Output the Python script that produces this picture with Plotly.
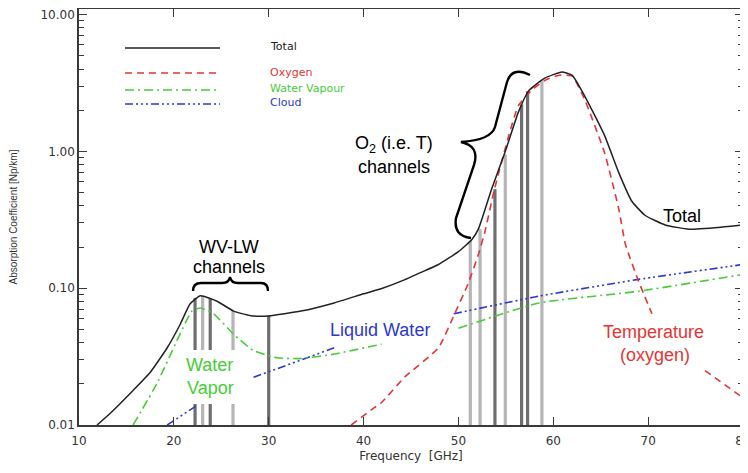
import plotly.graph_objects as go

# ---------------- data ----------------
freq_total = [11.9, 13.3, 15.7, 17.5, 19.3, 20.7, 21.7, 22.8, 24.6, 26.3, 28.1, 30.0,
              33.4, 36.9, 40.0, 42.0, 44.3, 46.0, 47.9, 50.0, 51.4, 52.1, 53.5, 54.9,
              56.3, 57.4, 59.1, 60.9, 62.0, 63.3, 65.4, 66.9, 68.3, 69.7, 71.8, 74.3,
              77.8, 80.0]
total = [0.010, 0.0122, 0.0179, 0.0242, 0.0367, 0.055, 0.0766, 0.088, 0.080, 0.068,
         0.063, 0.0627, 0.068, 0.078, 0.091, 0.100, 0.115, 0.130, 0.149, 0.185, 0.226,
         0.27, 0.53, 0.98, 1.92, 2.77, 3.43, 3.8, 3.6, 2.55, 1.31, 0.70, 0.43, 0.34,
         0.29, 0.27, 0.28, 0.29]

freq_oxygen = [38.7, 40.8, 41.9, 44.3, 47.9, 49.6, 51.0, 52.1, 52.8, 53.8, 55.3, 56.3,
               57.7, 59.1, 60.6, 62.0, 63.3, 65.4, 66.9, 67.6, 69.0, 70.4, None, 76.0, 79.9]
oxygen = [0.010, 0.0129, 0.0146, 0.0223, 0.0367, 0.065, 0.107, 0.176, 0.26, 0.53, 1.3,
          2.15, 2.8, 3.3, 3.6, 3.55, 2.4, 0.98, 0.38, 0.21, 0.112, 0.065, None, 0.025, 0.016]

freq_vapour = [15.7, 18.2, 20.3, 21.9, 22.8, 24.2, 26.3, 28.4, 30.9, 33.4, 36.9, 41.9,
               None, 50.0, 58.5, 69.0, 80.0]
vapour = [0.010, 0.020, 0.041, 0.068, 0.0716, 0.065, 0.046, 0.035, 0.031, 0.0306, 0.033,
          0.039, None, 0.051, 0.078, 0.095, 0.126]

freq_cloud = [19.3, 22.5, None, 28.4, 36.9, None, 49.5, 58.5, 69.0, 80.0]
cloud = [0.010, 0.014, None, 0.0223, 0.0367, None, 0.065, 0.0875, 0.116, 0.149]

wv_channels = [22.235, 23.035, 23.835, 26.235, 30.0]
wv_tops = [0.085, 0.088, 0.084, 0.068, 0.063]
wv_dark = [True, False, True, False, True]

o2_channels = [51.25, 52.28, 53.85, 54.94, 56.66, 57.29, 58.8]
o2_tops = [0.22, 0.27, 0.53, 0.95, 2.2, 2.75, 3.3]
o2_dark = [False, False, True, False, True, True, False]

x_ticks = [10, 20, 30, 40, 50, 60, 70, 80]
y_ticks = [0.01, 0.1, 1, 10]
y_ticktext = ["0.01", "0.10", "1.00", "10.00"]

# ---------------- styling ----------------
OFF = 8                      # page body margin of the browser
W, H = 748 - OFF, 473 - OFF
X0, X1, Y0, Y1 = 79, 743, 425, 9   # plot box in screen pixels (left, right, bottom, top)
DECADE = 136.8                     # pixels per decade on the y axis
RED = "rgb(232,52,52)"
GREEN = "rgb(70,205,55)"
BLUE = "rgb(45,55,215)"
DASH_O2 = "7px,5px"
DASH_WV = "9px,4px,2px,4px"
DASH_CL = "8px,3px,2px,3px,2px,3px,2px,3px"
SMOOTH = 0.45


def px(x):
    return (x - X0) / (X1 - X0)


def py(y):
    return (Y0 - y) / (Y0 - Y1)


def path(segs):
    out = []
    for cmd, pts in segs:
        out.append(cmd + " ".join(f"{px(a):.4f},{py(b):.4f}" for a, b in pts))
    return " ".join(out)


fig = go.Figure()

# channel bars
for chans, tops, darks in [(wv_channels, wv_tops, wv_dark), (o2_channels, o2_tops, o2_dark)]:
    for shade, col in [(True, "#6e6e6e"), (False, "#b5b5b5")]:
        xs, ys = [], []
        for f, t, d in zip(chans, tops, darks):
            if d == shade:
                xs += [f, f, None]
                ys += [0.01, t, None]
        fig.add_trace(go.Scatter(x=xs, y=ys, mode="lines",
                                 line=dict(color=col, width=3.2),
                                 hoverinfo="skip", showlegend=False))

fig.add_trace(go.Scatter(x=freq_cloud, y=cloud, mode="lines", showlegend=False,
                         line=dict(color=BLUE, width=1.6, dash=DASH_CL, shape="spline", smoothing=SMOOTH)))
fig.add_trace(go.Scatter(x=freq_vapour, y=vapour, mode="lines", showlegend=False,
                         line=dict(color=GREEN, width=1.6, dash=DASH_WV, shape="spline", smoothing=SMOOTH)))
fig.add_trace(go.Scatter(x=freq_oxygen, y=oxygen, mode="lines", showlegend=False,
                         line=dict(color=RED, width=1.6, dash=DASH_O2, shape="spline", smoothing=SMOOTH)))
fig.add_trace(go.Scatter(x=freq_total, y=total, mode="lines", showlegend=False,
                         line=dict(color="#222222", width=1.5, shape="spline", smoothing=SMOOTH)))

shapes = []
# white box behind "Water Vapor" label
shapes.append(dict(type="rect", xref="paper", yref="paper", layer="above",
                   x0=px(178), x1=px(250), y0=py(404), y1=py(350),
                   fillcolor="white", line=dict(width=0)))

# legend samples
for yy, col, dash in [(48, "#222222", "solid"), (73, RED, DASH_O2),
                      (90, GREEN, DASH_WV), (104, BLUE, DASH_CL)]:
    shapes.append(dict(type="line", xref="paper", yref="paper", layer="above",
                       x0=px(125), x1=px(220), y0=py(yy), y1=py(yy),
                       line=dict(color=col, width=1.6, dash=dash)))

# braces
brace_o2 = path([("M", [(530, 75)]), ("Q", [(512, 66), (507, 82)]), ("L", [(495, 127)]),
                 ("Q", [(491, 140), (461, 142)]), ("Q", [(480, 146), (474, 165)]),
                 ("L", [(456, 218)]), ("Q", [(453, 236), (471, 238)])])
brace_wv = path([("M", [(193, 291)]), ("Q", [(193, 283), (201, 283)]), ("L", [(222, 283)]),
                 ("Q", [(229, 283), (230, 277)]), ("Q", [(231, 283), (238, 283)]),
                 ("L", [(261, 283)]), ("Q", [(268, 283), (268, 291)])])
for p in (brace_o2, brace_wv):
    shapes.append(dict(type="path", xref="paper", yref="paper", layer="above", path=p,
                       line=dict(color="black", width=2.4)))

annots = []


def txt(text, x, y, color="black", size=18, family="Liberation Sans, Arial", xanchor="center"):
    annots.append(dict(text=text, xref="paper", yref="paper", x=px(x), y=py(y),
                       xanchor=xanchor, yanchor="middle", showarrow=False,
                       font=dict(color=color, size=size, family=family)))


LEG_FONT = "DejaVu Sans"
txt("Total", 268, 46, "#222222", 11, LEG_FONT, "left")
txt("Oxygen", 268, 72, RED, 11, LEG_FONT, "left")
txt("Water Vapour", 268, 88, GREEN, 11, LEG_FONT, "left")
txt("Cloud", 268, 102, BLUE, 11, LEG_FONT, "left")

txt("WV-LW", 229, 247)
txt("channels", 229, 267)
txt("O<sub>2</sub> (i.e. T)", 394, 145)
txt("channels", 394, 167)
txt("Water", 209, 365, GREEN)
txt("Vapor", 210, 388, GREEN)
txt("Liquid Water", 380, 330, BLUE)
txt("Total", 682, 216)
txt("Temperature", 653, 332, RED)
txt("(oxygen)", 655, 355, RED)

axis_common = dict(showline=True, linecolor="#3a3a3a", linewidth=1.5, mirror="ticks",
                   ticks="inside", tickcolor="#3a3a3a", tickwidth=1.3, showgrid=False,
                   zeroline=False, automargin=False, ticklabeloverflow="allow",
                   tickfont=dict(family="DejaVu Sans", size=12, color="#333333"))

fig.update_layout(
    width=W, height=H,
    margin=dict(l=X0 - OFF, r=W - (X1 - OFF), t=Y1 - OFF, b=H - (Y0 - OFF), autoexpand=False),
    paper_bgcolor="white", plot_bgcolor="white",
    shapes=shapes, annotations=annots,
    xaxis=dict(range=[10, 80], tickvals=x_ticks, ticklen=8, ticklabelstandoff=4,
               title=dict(text="Frequency  [GHz]", font=dict(family="DejaVu Sans", size=12, color="#333333"),
                          standoff=4),
               **axis_common),
    yaxis=dict(type="log", range=[-2, -2 + (Y0 - Y1) / DECADE], tickvals=y_ticks,
               ticktext=y_ticktext, ticklen=8,
               minor=dict(ticks="inside", ticklen=5, tickcolor="#3a3a3a", tickwidth=1.2,
                          tickvals=[m * 10 ** e for e in (-2, -1, 0) for m in range(2, 10)]),
               title=dict(text="Absorption Coefficient [Np/km]",
                          font=dict(family="Liberation Sans, Arial", size=10, color="#333333"),
                          standoff=21),
               **axis_common),
)

fig.write_html("out.html")
